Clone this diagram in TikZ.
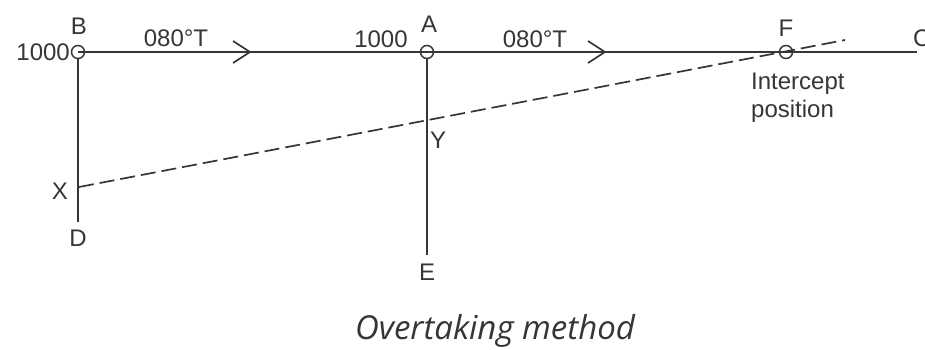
\documentclass[tikz,border=0pt]{standalone}
\usepackage{fontspec}
\setmainfont{Liberation Sans}
\newfontfamily\capfont{Open Sans}
\definecolor{ink}{HTML}{363636}
\begin{document}
\begin{tikzpicture}[x=1pt,y=-1pt,
  lbl/.style={font=\fontsize{24}{28}\selectfont, text=ink, inner sep=0pt},
  pt/.style={circle, draw=ink, line width=1.5pt, minimum size=13pt, inner sep=0pt},
  ln/.style={draw=ink, line width=1.7pt},
  dashln/.style={ln, dash pattern=on 15pt off 6pt},
  chev/.style={ln, line join=miter}]
\useasboundingbox (0,0) rectangle (925,349);
\fill[white] (0,0) rectangle (925,349);
% points
\node[pt] (B) at (78,52) {};
\node[pt] (A) at (427,52) {};
\node[pt] (F) at (786,52) {};
\coordinate (Cend) at (917,52);
\coordinate (D) at (78,222);
\coordinate (E) at (427,255);
\coordinate (X) at (79,187);
\coordinate (Dashend) at (845,40);
\coordinate (ch1) at (250,52);
\coordinate (ch2) at (605,52);
% lines
\draw[ln] (B.center) -- (A.center) -- (F.center) -- (Cend);
\draw[ln] (B.south) -- (D);
\draw[ln] (A.south) -- (E);
\draw[dashln] (X) -- (Dashend);
\draw[chev] (ch1) ++(-17,-11) -- (ch1) -- ++(-17,11);
\draw[chev] (ch2) ++(-17,-11) -- (ch2) -- ++(-17,11);
% labels
\node[lbl, anchor=east] (lB1000) at (70,52) {1000};
\node[lbl] (lB) at (79,26) {B};
\node[lbl] (lc1) at (176,38) {080°T};
\node[lbl] (lA) at (429,24) {A};
\node[lbl] (lA1000) at (381,39) {1000};
\node[lbl] (lc2) at (535,39) {080°T};
\node[lbl] (lF) at (786,28) {F};
\node[lbl, anchor=west] (lC) at (913,38) {C};
\node[lbl, anchor=north west, align=left] (lInt) at (751,73) {Intercept\\position};
\node[lbl] (lY) at (438,140) {Y};
\node[lbl] (lX) at (60,191) {X};
\node[lbl] (lD) at (78,238) {D};
\node[lbl] (lE) at (427,272) {E};
\node[font=\capfont\itshape\fontsize{33}{33}\selectfont, text=ink, inner sep=0pt, anchor=base] (cap) at (495,339) {Overtaking method};
\end{tikzpicture}
\end{document}
